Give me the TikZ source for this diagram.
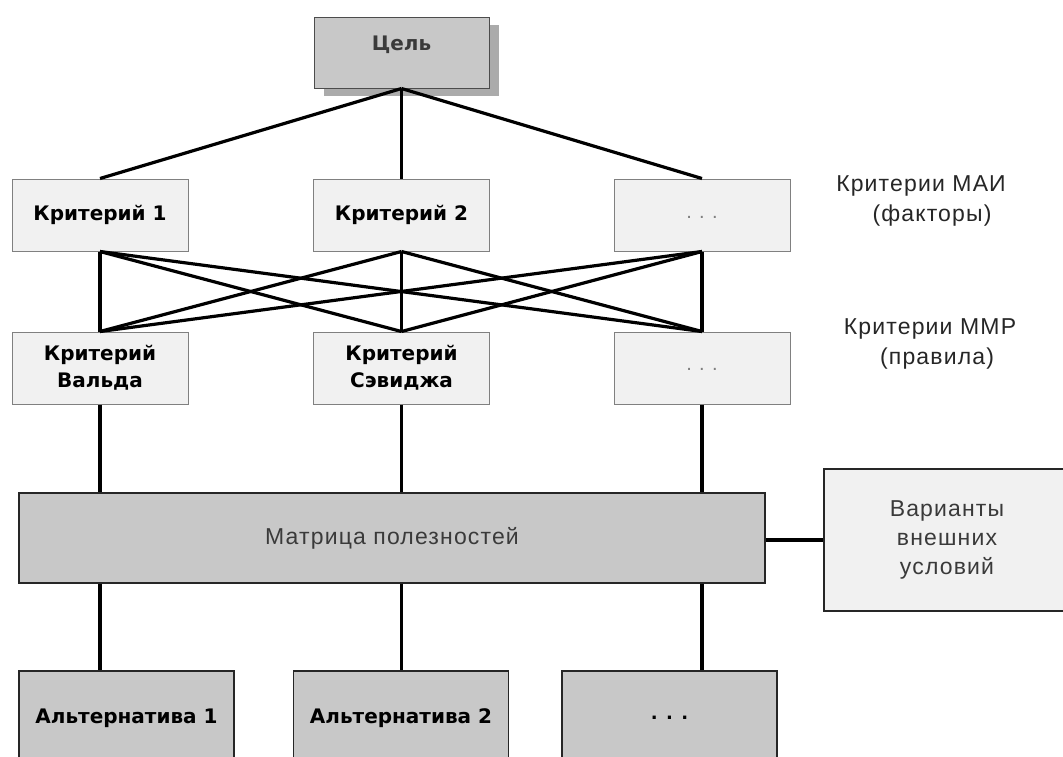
\documentclass[tikz,border=0pt]{standalone}
\usepackage{fontspec}
\setmainfont{Liberation Sans}
\newfontfamily\heavyfont{DejaVu Sans}
\newfontfamily\labelfont[LetterSpace=5]{Liberation Sans}
\usetikzlibrary{shadows}

\definecolor{darkfill}{HTML}{C8C8C8}
\definecolor{lightfill}{HTML}{F1F1F1}
\definecolor{shadowgray}{HTML}{ABABAB}
\definecolor{textgray}{HTML}{3A3A3A}

\begin{document}
\begin{tikzpicture}[x=1pt, y=-1pt,
		boxtext/.style={font=\heavyfont\bfseries\fontsize{20}{27}\selectfont},
		critbox/.style={draw=gray, fill=lightfill, line width=1pt, minimum width=176pt, minimum height=72pt, inner sep=0pt, align=center, boxtext},
		altbox/.style={draw=black!85, fill=darkfill, line width=1.2pt, minimum width=215pt, minimum height=94pt, inner sep=0pt, boxtext},
		sidelabel/.style={align=center, text=black!85, font=\labelfont\fontsize{23}{30}\selectfont},
		dots/.style={text=gray, font=\fontsize{20}{24}\selectfont},
		link/.style={line width=3.2pt, black}
	]

	\useasboundingbox (0,0) rectangle (1063,756);
	\clip (0,0) rectangle (1063,756);

	% goal
	\node[draw=black!70, fill=darkfill, line width=1pt, minimum width=175pt, minimum height=71pt, inner sep=0pt, text depth=19pt, boxtext, text=textgray,
		drop shadow={shadow xshift=10pt, shadow yshift=-8pt, fill=shadowgray, opacity=1}] (goal) at (401.5,52.5) {Цель};

	% first level
	\node[critbox] (k1) at (100,215) {Критерий 1};
	\node[critbox] (k2) at (401.5,215) {Критерий 2};
	\node[critbox, dots] (k3) at (702,215) {\raisebox{-7pt}{. . .}};

	% second level
	\node[critbox] (r1) at (100,368) {Критерий\\Вальда};
	\node[critbox] (r2) at (401.5,368) {Критерий\\Сэвиджа};
	\node[critbox, dots] (r3) at (702,368) {\raisebox{-5pt}{. . .}};

	\node[sidelabel] (mai) at (921,200.5) {Критерии МАИ\\\hspace*{22pt}(факторы)};
	\node[sidelabel] (mmr) at (930,343.5) {Критерии ММР\\\hspace*{14pt}(правила)};

	% matrix and conditions
	\node[draw=black!85, fill=darkfill, line width=1.2pt, minimum width=746pt, minimum height=90pt, inner sep=0pt, text=textgray, font=\labelfont\fontsize{23}{30}\selectfont] (mat) at (392,538) {Матрица полезностей};
	\node[draw=black!85, fill=lightfill, line width=1.2pt, minimum width=246pt, minimum height=142pt, inner sep=0pt, align=center, text=textgray, font=\labelfont\fontsize{23}{29}\selectfont] (var) at (947,540) {Варианты\\внешних\\условий};

	% alternatives
	\node[altbox] (a1) at (126.5,718) {Альтернатива 1};
	\node[altbox] (a2) at (401,718) {Альтернатива 2};
	\node[altbox, font=\heavyfont\bfseries\fontsize{18}{20}\selectfont] (a3) at (669.5,718) {. . .};

	% connectors
	\foreach \i in {1,2,3} {
		\draw[link] (goal.south) -- (k\i.north);
		\foreach \j in {1,2,3}
			\draw[link] (k\i.south) -- (r\j.north);
		\draw[link] (r\i.south) -- (r\i.south |- mat.north);
		\draw[link] (r\i.south |- mat.south) -- (r\i.south |- a\i.north);
	}
	\draw[link] (mat.east |- var.west) -- (var.west);

\end{tikzpicture}
\end{document}
